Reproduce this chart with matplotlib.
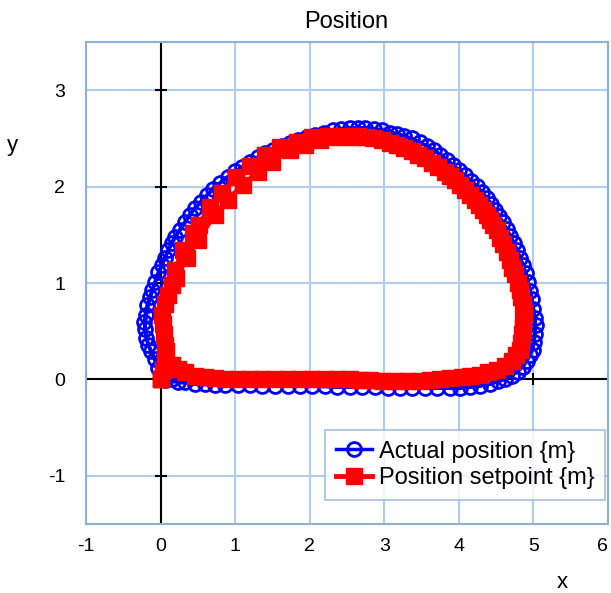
import matplotlib.pyplot as plt

# --- trajectory data (m), two laps per series ---
setpoint_x_lap1 = [0.00, 0.06, 0.06, 0.03, 0.06, 0.15, 0.19, 0.30, 0.44, 0.51, 0.66, 0.82,
                   1.01, 1.20, 1.40, 1.60, 1.83, 2.03, 2.25, 2.47, 2.65, 2.85, 3.07, 3.27,
                   3.45, 3.64, 3.81, 3.95, 4.08, 4.21, 4.32, 4.42, 4.51, 4.59, 4.68, 4.75,
                   4.82, 4.86, 4.86, 4.85, 4.82, 4.71, 4.51, 4.28, 4.04, 3.75, 3.48, 3.14,
                   2.81, 2.54, 2.21, 1.87, 1.53, 1.20, 0.86, 0.60, 0.33, 0.15, 0.00]
setpoint_y_lap1 = [0.00, 0.19, 0.36, 0.57, 0.78, 0.98, 1.14, 1.34, 1.52, 1.60, 1.79, 1.93,
                   2.10, 2.21, 2.33, 2.41, 2.46, 2.51, 2.53, 2.53, 2.53, 2.50, 2.45, 2.40,
                   2.33, 2.24, 2.15, 2.07, 1.96, 1.86, 1.76, 1.65, 1.55, 1.40, 1.24, 1.09,
                   0.93, 0.78, 0.62, 0.47, 0.31, 0.19, 0.10, 0.05, 0.02, 0.00, -0.02, -0.02,
                   -0.01, 0.00, 0.00, 0.00, 0.00, 0.00, 0.00, 0.02, 0.08, 0.15, 0.00]
setpoint_x_lap2 = [0.03, 0.07, 0.05, 0.02, 0.10, 0.21, 0.35, 0.50, 0.73, 0.90, 1.10, 1.31,
                   1.49, 1.73, 1.94, 2.14, 2.36, 2.57, 2.76, 2.97, 3.17, 3.37, 3.55, 3.72,
                   3.88, 4.02, 4.15, 4.27, 4.38, 4.46, 4.55, 4.64, 4.71, 4.79, 4.83, 4.87,
                   4.86, 4.83, 4.77, 4.62, 4.39, 4.15, 3.88, 3.61, 3.32, 2.98, 2.67, 2.36,
                   2.03, 1.71, 1.36, 1.04, 0.73, 0.46, 0.23, 0.06, 0.00]
setpoint_y_lap2 = [0.10, 0.29, 0.47, 0.67, 0.88, 1.05, 1.26, 1.45, 1.71, 1.86, 2.02, 2.15,
                   2.25, 2.38, 2.43, 2.48, 2.51, 2.51, 2.51, 2.48, 2.43, 2.37, 2.30, 2.20,
                   2.11, 2.02, 1.91, 1.81, 1.71, 1.60, 1.47, 1.32, 1.16, 1.00, 0.85, 0.69,
                   0.54, 0.38, 0.25, 0.14, 0.08, 0.04, 0.01, -0.01, -0.02, -0.02, -0.01, 0.00,
                   0.00, 0.00, 0.00, 0.00, 0.01, 0.04, 0.11, 0.19, 0.00]

actual_x_lap1 = [0.07, -0.07, -0.17, -0.21, -0.19, -0.14, -0.07, 0.02, 0.10, 0.19, 0.33, 0.46,
                 0.62, 0.80, 1.00, 1.20, 1.40, 1.63, 1.84, 2.07, 2.31, 2.54, 2.74, 2.97,
                 3.17, 3.37, 3.57, 3.75, 3.92, 4.08, 4.24, 4.38, 4.49, 4.59, 4.68, 4.78,
                 4.86, 4.93, 4.98, 5.02, 5.02, 4.99, 4.91, 4.79, 4.62, 4.42, 4.15, 3.88,
                 3.54, 3.21, 2.87, 2.54, 2.20, 1.87, 1.53, 1.20, 0.86, 0.60, 0.33, 0.15]
actual_y_lap1 = [0.07, 0.21, 0.36, 0.52, 0.67, 0.85, 1.01, 1.19, 1.34, 1.48, 1.63, 1.78,
                 1.91, 2.04, 2.16, 2.25, 2.35, 2.42, 2.48, 2.54, 2.59, 2.61, 2.61, 2.59,
                 2.55, 2.50, 2.42, 2.33, 2.22, 2.12, 2.01, 1.88, 1.76, 1.63, 1.49, 1.34,
                 1.19, 1.01, 0.83, 0.64, 0.47, 0.31, 0.19, 0.08, 0.00, -0.05, -0.08, -0.09,
                 -0.09, -0.09, -0.08, -0.08, -0.07, -0.07, -0.07, -0.06, -0.06, -0.05, -0.03, 0.00]
actual_x_lap2 = [0.03, -0.03, -0.13, -0.19, -0.22, -0.18, -0.11, -0.03, 0.06, 0.15, 0.26, 0.39,
                 0.54, 0.70, 0.90, 1.09, 1.31, 1.51, 1.74, 1.96, 2.19, 2.42, 2.65, 2.86,
                 3.07, 3.27, 3.48, 3.67, 3.84, 4.00, 4.16, 4.31, 4.43, 4.54, 4.64, 4.74,
                 4.82, 4.90, 4.95, 5.00, 5.03, 5.01, 4.95, 4.86, 4.71, 4.52, 4.28, 4.01,
                 3.71, 3.37, 3.05, 2.70, 2.36, 2.03, 1.71, 1.36, 1.04, 0.73, 0.46, 0.23, 0.06]
actual_y_lap2 = [0.02, 0.12, 0.29, 0.43, 0.60, 0.77, 0.93, 1.11, 1.26, 1.41, 1.55, 1.71,
                 1.84, 1.98, 2.10, 2.20, 2.31, 2.38, 2.45, 2.51, 2.56, 2.60, 2.61, 2.60,
                 2.56, 2.52, 2.46, 2.38, 2.28, 2.17, 2.06, 1.94, 1.82, 1.70, 1.56, 1.42,
                 1.26, 1.10, 0.92, 0.73, 0.56, 0.39, 0.25, 0.13, 0.04, -0.02, -0.07, -0.09,
                 -0.09, -0.09, -0.09, -0.08, -0.08, -0.07, -0.07, -0.07, -0.06, -0.06, -0.05, -0.03, -0.01]

setpoint_x = setpoint_x_lap1 + setpoint_x_lap2
setpoint_y = setpoint_y_lap1 + setpoint_y_lap2
actual_x = actual_x_lap1 + actual_x_lap2
actual_y = actual_y_lap1 + actual_y_lap2

x_ticks = [-1, 0, 1, 2, 3, 4, 5, 6]
y_ticks = [-1, 0, 1, 2, 3]

plt.rcParams['font.family'] = ['Liberation Sans', 'DejaVu Sans']
plt.rcParams['axes.unicode_minus'] = False

fig = plt.figure(figsize=(6.11, 5.93), dpi=100)
ax = fig.add_axes([86 / 611, 1 - 524 / 593, 522 / 611, 482 / 593])

ax.set_xlim(-1, 6)
ax.set_ylim(-1.5, 3.5)
ax.set_xticks(x_ticks)
ax.set_yticks(y_ticks)
ax.tick_params(length=0, labelsize=14)
ax.tick_params(axis='y', pad=15)
ax.tick_params(axis='x', pad=10)
ax.get_xticklabels()[-1].set_horizontalalignment('right')
ax.grid(True, color='#b0cdec', linewidth=1.5)
ax.set_axisbelow(True)
for sp in ax.spines.values():
    sp.set_color('#8fb0d6')
    sp.set_linewidth(1.5)

# zero axes with cross ticks
ax.axhline(0, color='black', linewidth=1.5, zorder=1)
ax.axvline(0, color='black', linewidth=1.5, zorder=1)
ax.plot(x_ticks, [0] * len(x_ticks), linestyle='none', marker='|', color='black',
        markersize=9, markeredgewidth=1.5, zorder=1)
ax.plot([0] * len(y_ticks), y_ticks, linestyle='none', marker='_', color='black',
        markersize=9, markeredgewidth=1.5, zorder=1)

ax.plot(actual_x, actual_y, color='#0000ff', linewidth=2.5, marker='o', markersize=10,
        markerfacecolor='none', markeredgewidth=2, label='Actual position {m}', zorder=3)
ax.plot(setpoint_x, setpoint_y, color='#ff0000', linewidth=3.5, marker='s', markersize=11,
        label='Position setpoint {m}', zorder=4)

leg = ax.legend(loc='lower right', fontsize=17, frameon=True, fancybox=False,
                handlelength=1.5, handletextpad=0.3, borderpad=0.45, labelspacing=0.2,
                borderaxespad=0, bbox_to_anchor=(0.994, 0.05))
leg.get_frame().set_edgecolor('#8fb0d6')
leg.get_frame().set_linewidth(1.2)

fig.text(346 / 611, 1 - 22 / 593, 'Position', ha='center', va='center', fontsize=17)
fig.text(12 / 611, 1 - 145 / 593, 'y', ha='center', va='center', fontsize=16)
fig.text(562 / 611, 1 - 582 / 593, 'x', ha='center', va='center', fontsize=16)

fig.savefig('out.png', dpi=100)
